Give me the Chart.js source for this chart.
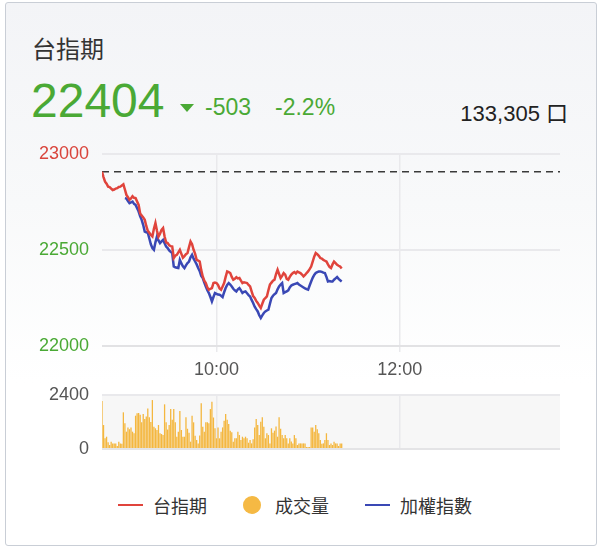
<!DOCTYPE html>
<html><head><meta charset="utf-8">
<script src="https://cdn.jsdelivr.net/npm/chart.js@4/dist/chart.umd.min.js"></script>
<style>
html,body{margin:0;padding:0;background:#fff;width:604px;height:548px;overflow:hidden;font-family:"Liberation Sans","Noto Sans CJK TC",sans-serif;}
#card{position:absolute;left:5px;top:2px;width:592px;height:544px;border:1px solid #c9ced6;border-radius:3px;background:linear-gradient(#f3f4f7 0px,#f8f9fa 200px,#fff 380px);box-sizing:border-box;}
.abs{position:absolute;white-space:nowrap;}
#title{left:32px;top:30px;font-size:24px;color:#333;font-family:"Noto Sans CJK TC",sans-serif;}
#price{left:31px;top:73px;font-size:48px;color:#4aa935;}
#tri{left:180px;top:104px;width:0;height:0;border-left:7.5px solid transparent;border-right:7.5px solid transparent;border-top:8px solid #4aa935;}
#chg{left:205px;top:94px;font-size:23px;color:#4aa935;}
#pct{left:275px;top:94px;font-size:23px;color:#4aa935;}
#tot{right:36px;top:95px;font-size:22px;color:#222;}
#tot span{font-family:"Noto Sans CJK TC",sans-serif;}
#mainBox{left:20px;top:140px;width:560px;height:250px;}
#volBox{left:20px;top:383px;width:560px;height:78px;}
#legend{left:0;top:492px;width:604px;height:26px;font-family:"Noto Sans CJK TC",sans-serif;font-size:18px;color:#333;}
.li{position:absolute;top:0;line-height:26px;}
.ln{position:absolute;top:12px;width:25px;height:2px;}
.dot{position:absolute;top:4px;width:18px;height:18px;border-radius:9px;background:#f5b944;}
</style></head>
<body>
<div id="card"></div>
<div id="title" class="abs">台指期</div>
<div id="price" class="abs">22404</div>
<div id="tri" class="abs"></div>
<div id="chg" class="abs">-503</div>
<div id="pct" class="abs">-2.2%</div>
<div id="tot" class="abs">133,305 <span>口</span></div>
<div id="mainBox" class="abs"><canvas id="main"></canvas></div>
<div id="volBox" class="abs"><canvas id="vol"></canvas></div>
<div id="legend" class="abs">
  <div class="ln" style="left:118px;background:#e0443c"></div><div class="li" style="left:153px">台指期</div>
  <div class="dot" style="left:243px"></div><div class="li" style="left:275px">成交量</div>
  <div class="ln" style="left:365px;background:#3a48b5"></div><div class="li" style="left:400px">加權指數</div>
</div>
<script>
// ---- data ----
const sessionStart = '08:45';
const sessionEnd = '13:45';
const spotStart = '09:00';
const timeTicks = ['10:00', '12:00'];
const prevClose = 22907;
const priceTicks = [22000, 22500, 23000];
const volumeTicks = [0, 2400];

// 台指期, one value per minute from 08:45
const futures = [
22907,22880,22856,22845,22830,22828,22820,22812,22815,22820,
22822,22828,22830,22836,22842,22815,22787,22775,22761,22768,
22780,22772,22770,22752,22735,22690,22680,22670,22657,22625,
22600,22590,22578,22570,22610,22640,22600,22570,22585,22605,
22614,22570,22540,22536,22525,22520,22518,22458,22470,22475,
22488,22501,22480,22460,22468,22478,22484,22515,22544,22530,
22501,22480,22449,22445,22440,22395,22362,22340,22328,22305,
22293,22298,22302,22328,22330,22328,22318,22300,22293,22310,
22328,22360,22388,22385,22380,22360,22345,22350,22358,22352,
22354,22340,22328,22332,22330,22328,22318,22310,22285,22260,
22250,22235,22224,22210,22198,22220,22241,22250,22258,22290,
22320,22330,22340,22345,22375,22397,22375,22354,22365,22380,
22372,22350,22345,22360,22372,22380,22385,22378,22388,22384,
22380,22372,22362,22370,22380,22388,22400,22414,22440,22465,
22484,22478,22470,22458,22455,22448,22444,22440,22425,22412,
22406,22425,22440,22432,22423,22418,22414,22404
];

// 加權指數, one value per minute from 09:00
const spot = [
22770,22768,22755,22744,22748,22752,22740,22735,22718,22700,
22675,22657,22630,22596,22592,22590,22560,22530,22510,22501,
22540,22570,22550,22536,22545,22553,22535,22518,22510,22498,
22490,22484,22414,22410,22408,22406,22449,22430,22415,22406,
22420,22432,22440,22462,22475,22455,22440,22425,22406,22390,
22365,22354,22330,22310,22290,22276,22255,22232,22255,22276,
22272,22268,22267,22262,22255,22280,22302,22318,22328,22320,
22310,22298,22290,22284,22295,22302,22290,22276,22282,22284,
22275,22265,22258,22240,22224,22205,22192,22180,22160,22146,
22160,22172,22180,22185,22189,22220,22250,22262,22270,22276,
22295,22310,22320,22328,22276,22280,22284,22290,22305,22315,
22319,22322,22325,22328,22320,22315,22310,22305,22300,22296,
22293,22315,22336,22355,22370,22380,22385,22388,22388,22386,
22382,22380,22360,22336,22338,22336,22336,22345,22352,22359,
22350,22342,22336
];

// 成交量, one value per minute from 08:45
const volume = [
2130,1065,475,546,300,178,325,250,250,250,133,325,250,230,1630,1140,770,960,880,960,
770,700,1480,1585,1600,1520,1185,1560,1330,1450,1800,1410,1200,2175,990,920,845,1065,700,665,
620,1985,1185,865,1065,1775,1300,1775,1185,546,770,1690,
845,546,546,1410,900,725,325,1480,1185,590,400,250,600,2030,990,770,1185,1185,1140,1775,
2100,1400,920,475,960,475,770,960,1260,1560,1300,1115,815,740,325,475,475,770,620,400,
546,475,546,475,280,400,250,430,960,1330,1065,620,1210,1410,990,
475,700,620,250,920,725,815,1000,546,1410,900,620,475,620,475,250,475,330,250,620,
475,178,250,250,250,250,250,90,90,90,960,960,770,1065,880,700,400,230,250,400,
700,400,178,250,178,325,250,250,133,250,250
];

// ---- helpers ----
function toMin(t){const [h,m]=t.split(':').map(Number);const [h0,m0]=sessionStart.split(':').map(Number);return (h*60+m)-(h0*60+m0);}
function fmt(v){const [h0,m0]=sessionStart.split(':').map(Number);const t=h0*60+m0+v;return String(Math.floor(t/60)).padStart(2,'0')+':'+String(t%60).padStart(2,'0');}
const xMax = toMin(sessionEnd);
const spotOffset = toMin(spotStart);

const RED='#e0443c', BLUE='#3a48b5', GREEN='#4aa935', GRID='#e9e9ec';
const FONT={family:'"Liberation Sans","Noto Sans CJK TC",sans-serif',size:18};
const noPad=(s)=>{s.width=82;s.paddingTop=0;s.paddingBottom=0;};

const xScaleBase = {
  type:'linear', min:0, max:xMax, offset:false,
  afterBuildTicks:(s)=>{s.ticks=timeTicks.map(t=>({value:toMin(t)}));},
  border:{display:false},
};

new Chart(document.getElementById('main'),{
  type:'line',
  data:{datasets:[
    {data:[{x:0,y:prevClose},{x:xMax,y:prevClose}],borderColor:'#3a3a3a',borderWidth:1.5,borderDash:[7,5],pointRadius:0,order:3},
    {data:spot.map((v,i)=>({x:i+spotOffset,y:v})),borderColor:BLUE,borderWidth:2.5,pointRadius:0,order:2},
    {data:futures.map((v,i)=>({x:i,y:v})),borderColor:RED,borderWidth:2.5,pointRadius:0,order:1}
  ]},
  options:{
    responsive:true,maintainAspectRatio:false,animation:false,
    layout:{padding:{top:14,right:20,bottom:0,left:0}},
    plugins:{legend:{display:false},tooltip:{enabled:false}},
    scales:{
      x:{...xScaleBase,
        grid:{color:GRID,lineWidth:1.5,tickLength:6},
        ticks:{font:FONT,color:'#555',padding:7,callback:(v)=>fmt(v),maxRotation:0},
        afterFit:(s)=>{s.height=44;}
      },
      y:{min:priceTicks[0],max:priceTicks[priceTicks.length-1],
        afterBuildTicks:(s)=>{s.ticks=priceTicks.map(v=>({value:v}));},
        border:{display:false},
        grid:{color:(c)=>c.tick&&c.tick.value===priceTicks[0]?'#e2e2e4':GRID,lineWidth:2,drawTicks:false},
        ticks:{font:FONT,padding:13,color:(c)=>c.tick.value>=prevClose?'#d9453c':GREEN,callback:(v)=>String(v)},
        afterFit:noPad
      }
    }
  }
});

const plotBg={id:'plotBg',beforeDraw(chart){const a=chart.chartArea;const c=chart.ctx;c.save();c.fillStyle='#f7f7f7';c.fillRect(a.left,a.top,a.right-a.left,a.bottom-a.top);c.restore();}};

new Chart(document.getElementById('vol'),{
  type:'bar',
  data:{datasets:[{data:volume.map((v,i)=>({x:i,y:v})),backgroundColor:'#f4b73f',borderWidth:0,barPercentage:0.85,categoryPercentage:1}]},
  options:{
    responsive:true,maintainAspectRatio:false,animation:false,
    layout:{padding:{top:12,right:20,bottom:12,left:0}},
    plugins:{legend:{display:false},tooltip:{enabled:false}},
    scales:{
      x:{...xScaleBase,
        grid:{color:GRID,lineWidth:1.5,drawTicks:false,offset:false},
        ticks:{display:false},
        afterFit:(s)=>{s.height=0;}
      },
      y:{min:volumeTicks[0],max:volumeTicks[1],
        afterBuildTicks:(s)=>{s.ticks=volumeTicks.map(v=>({value:v}));},
        border:{display:false},
        grid:{color:(c)=>c.tick&&c.tick.value===0?'#e4e4e6':GRID,lineWidth:2,drawTicks:false},
        ticks:{font:FONT,padding:13,color:'#555',callback:(v)=>String(v)},
        afterFit:noPad
      }
    }
  },
  plugins:[plotBg]
});
</script>
</body></html>
